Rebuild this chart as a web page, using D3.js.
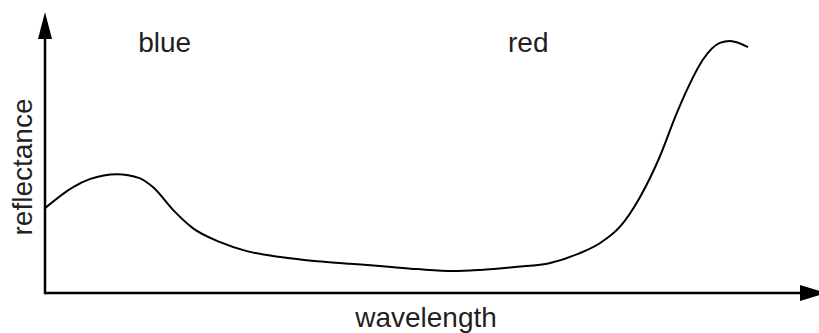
<!DOCTYPE html>
<html>
<head>
<meta charset="utf-8">
<script src="https://cdn.jsdelivr.net/npm/d3@7"></script>
<style>
  html, body { margin: 0; padding: 0; background: #fff; }
  svg { display: block; }
  text { font-family: "Liberation Sans", Arial, Helvetica, sans-serif; fill: #231f20; }
</style>
</head>
<body>
<svg id="chart" width="819" height="333"></svg>
<script>
// schematic spectrum, values (arbitrary units, 0-100)
var wavelength  = [0, 3.6, 5.8, 9.2, 12.1, 13.8, 16.4, 18.9, 22.4, 25.8, 30.1, 34.8, 39.0, 43.2, 47.6, 52.2, 56.0, 60.4, 64.6, 68.4, 71.0, 73.5, 76.1, 78.6, 80.8, 82.5, 84.1, 86.3, 87.6, 89.9];
var reflectance = [30.2, 37.7, 40.6, 42.3, 40.9, 37.7, 29.5, 23.1, 18.1, 14.9, 12.8, 11.3, 10.4, 9.5, 8.5, 7.8, 8.3, 9.3, 10.7, 14.2, 17.8, 23.5, 34.2, 48.4, 64.1, 74.7, 82.9, 89.0, 89.7, 87.5];

// band labels and where they sit along the wavelength axis
var bandNames   = ["blue", "red"];
var bandCenters = [15.3, 61.8];

var xTitle = "wavelength";
var yTitle = "reflectance";

var svg = d3.select("#chart");

var x = d3.scaleLinear().domain([0, 100]).range([45, 827]);
var y = d3.scaleLinear().domain([0, 100]).range([293, 12]);

// axes with arrow heads
svg.append("line")
    .attr("x1", x(0)).attr("y1", y(0))
    .attr("x2", x(100) - 20).attr("y2", y(0))
    .attr("stroke", "#000")
    .attr("stroke-width", 2.5);
svg.append("path")
    .attr("d", "M" + (x(100) - 27) + "," + (y(0) - 8) + " L" + x(100) + "," + y(0) + " L" + (x(100) - 27) + "," + (y(0) + 8) + " Z")
    .attr("fill", "#000");

svg.append("line")
    .attr("x1", x(0)).attr("y1", y(0) + 1.25)
    .attr("x2", x(0)).attr("y2", y(100) + 20)
    .attr("stroke", "#000")
    .attr("stroke-width", 2.5);
svg.append("path")
    .attr("d", "M" + (x(0) - 7) + "," + (y(100) + 27) + " L" + x(0) + "," + y(100) + " L" + (x(0) + 7) + "," + (y(100) + 27) + " Z")
    .attr("fill", "#000");

// the curve
var pts = wavelength.map(function(d, i) { return [d, reflectance[i]]; });
var line = d3.line()
    .x(function(d) { return x(d[0]); })
    .y(function(d) { return y(d[1]); })
    .curve(d3.curveMonotoneX);

svg.append("path")
    .datum(pts)
    .attr("d", line)
    .attr("fill", "none")
    .attr("stroke", "#000")
    .attr("stroke-width", 2);

// band labels
svg.selectAll(".band")
    .data(bandNames)
    .enter()
    .append("text")
    .attr("class", "band")
    .attr("x", function(d, i) { return x(bandCenters[i]); })
    .attr("y", 52)
    .attr("text-anchor", "middle")
    .style("font-size", "28px")
    .text(function(d) { return d; });

// axis titles
svg.append("text")
    .attr("x", 426)
    .attr("y", 327)
    .attr("text-anchor", "middle")
    .style("font-size", "28px")
    .text(xTitle);

svg.append("text")
    .attr("transform", "translate(32,167) rotate(-90)")
    .attr("text-anchor", "middle")
    .style("font-size", "28px")
    .text(yTitle);
</script>
</body>
</html>
